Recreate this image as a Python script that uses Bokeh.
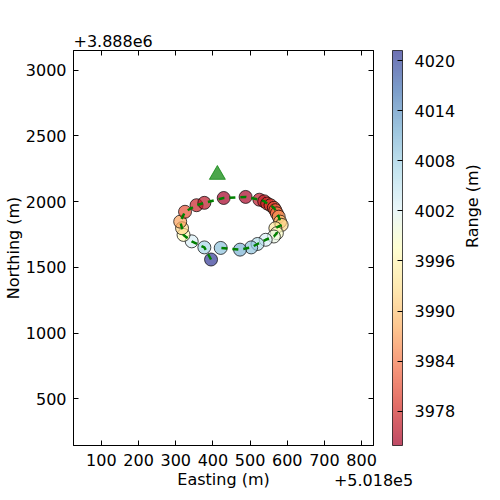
import numpy as np
from bokeh.plotting import figure
from bokeh.models import (LinearAxis, FixedTicker, ColorBar, LinearColorMapper,
                          ColumnDataSource, Range1d, Title)
from bokeh.embed import file_html
from bokeh.resources import INLINE

# ---- data (offsets from 501800 E / 3888000 N) ----
easting = [395, 377, 343, 321, 317, 312, 325, 356, 377, 429, 488, 525, 538, 546,
           555, 564, 568, 572, 577, 581, 585, 568, 572, 564, 542, 520, 503, 473, 421]
northing = [1560, 1652, 1698, 1747, 1798, 1848, 1923, 1973, 1991, 2028, 2036, 2015,
            2003, 1986, 1973, 1953, 1935, 1911, 1886, 1848, 1823, 1798, 1760, 1735,
            1710, 1678, 1652, 1635, 1648]
slant_range = [4021.0, 4007.4, 4002.9, 3997.4, 3991.9, 3987.3, 3981.0, 3977.2, 3976.0,
               3974.0, 3974.3, 3976.1, 3977.1, 3978.3, 3979.3, 3980.9, 3982.2, 3984.1,
               3986.2, 3989.6, 3992.0, 3993.9, 3998.0, 4000.6, 4002.9, 4006.3, 4009.3,
               4011.1, 4009.7]
transponder_e = [412]
transponder_n = [2205]
x_ticks = [100, 200, 300, 400, 500, 600, 700, 800]
y_ticks = [500, 1000, 1500, 2000, 2500, 3000]
cbar_ticks = [3978, 3984, 3990, 3996, 4002, 4008, 4014, 4020]
x_offset_text = "+5.018e5"
y_offset_text = "+3.888e6"

FONT = "DejaVu Sans"
FS = "16px"
FRAME_H = 395

# RdYlBu colormap (red = low, blue = high), interpolated
stops = ['#a50026', '#d73027', '#f46d43', '#fdae61', '#fee090', '#ffffbf',
         '#e0f3f8', '#abd9e9', '#74add1', '#4575b4', '#313695']
rgb = np.array([[int(s[i:i + 2], 16) for i in (1, 3, 5)] for s in stops], float)
t = np.linspace(0, 1, 256)
pos = np.linspace(0, 1, len(stops))
pal = ['#%02x%02x%02x' % tuple(int(round(np.interp(v, pos, rgb[:, k]))) for k in range(3))
       for v in t]
mapper = LinearColorMapper(palette=pal, low=3973.9, high=4021.2)

p = figure(frame_width=300, frame_height=FRAME_H,
           output_backend="svg", toolbar_location=None,
           x_range=Range1d(25, 832), y_range=Range1d(145, 3150),
           min_border_top=50, min_border_right=0, min_border_bottom=0,
           min_border_left=0)
p.xgrid.visible = False
p.ygrid.visible = False
p.outline_line_color = "black"
p.outline_line_width = 1

src = ColumnDataSource(dict(x=easting, y=northing, r=slant_range))
p.scatter('x', 'y', source=src, size=13, marker="circle",
          fill_color={'field': 'r', 'transform': mapper}, fill_alpha=0.7,
          line_color="black", line_alpha=0.7, line_width=1)
p.line('x', 'y', source=src, line_color="green", line_width=2.5, line_dash="6 5")
p.scatter(transponder_e, transponder_n, marker="triangle", size=16,
          fill_color="green", fill_alpha=0.7, line_color="green", line_alpha=0.7)


def style_axis(ax, ticks, labels=True):
    ax.ticker = FixedTicker(ticks=ticks)
    ax.major_tick_in = 5
    ax.major_tick_out = 0
    ax.minor_tick_line_color = None
    ax.axis_line_color = "black"
    ax.major_tick_line_color = "black"
    ax.major_label_text_font = FONT
    ax.major_label_text_font_size = FS if labels else "0px"
    ax.major_label_text_color = "black"
    ax.axis_label_text_font = FONT
    ax.axis_label_text_font_size = FS
    ax.axis_label_text_font_style = "normal"
    ax.axis_label_text_color = "black"


style_axis(p.xaxis[0], x_ticks)
style_axis(p.yaxis[0], y_ticks)
p.xaxis[0].axis_label = "Easting (m)"
p.yaxis[0].axis_label = "Northing (m)"
p.xaxis[0].major_label_standoff = 8
p.yaxis[0].major_label_standoff = 7
p.xaxis[0].axis_label_standoff = 1
p.yaxis[0].axis_label_standoff = 0

top_ax = LinearAxis()
style_axis(top_ax, x_ticks, labels=False)
top_ax.major_label_standoff = 0
p.add_layout(top_ax, "above")
right_ax = LinearAxis()
style_axis(right_ax, y_ticks, labels=False)
right_ax.major_label_standoff = 0
p.add_layout(right_ax, "right")

cb = ColorBar(color_mapper=mapper, ticker=FixedTicker(ticks=cbar_ticks),
              width=10, height=FRAME_H, padding=0, margin=0, scale_alpha=0.7,
              bar_line_color="black", bar_line_width=1,
              major_tick_in=5, major_tick_out=0, major_tick_line_color="black",
              minor_tick_line_color=None,
              major_label_text_font=FONT, major_label_text_font_size=FS,
              major_label_text_color="black", label_standoff=12,
              location=(19, 0), background_fill_alpha=0)
p.add_layout(cb, "right")

# colour bar label as an extra (tick-less) right axis
lab_ax = LinearAxis(ticker=FixedTicker(ticks=[]), axis_line_color=None,
                    major_tick_line_color=None, minor_tick_line_color=None,
                    axis_label="Range (m)", axis_label_text_font=FONT,
                    axis_label_text_font_size=FS, axis_label_text_font_style="normal",
                    axis_label_text_color="black", axis_label_standoff=14,
                    major_label_text_font_size="0px")
if hasattr(lab_ax, "axis_label_orientation"):
    lab_ax.axis_label_orientation = np.pi / 2
p.add_layout(lab_ax, "right")

p.add_layout(Title(text=y_offset_text, align="left", text_font=FONT,
                   text_font_size=FS, text_font_style="normal", text_color="black",
                   standoff=8, offset=0), "above")

# x offset text on the same row as the x-axis label
off_ax = LinearAxis(ticker=FixedTicker(ticks=[]), axis_line_color=None,
                    major_tick_line_color=None, minor_tick_line_color=None,
                    axis_label=x_offset_text, axis_label_text_font=FONT,
                    axis_label_text_font_size=FS, axis_label_text_font_style="normal",
                    axis_label_text_color="black", axis_label_standoff=-18,
                    major_label_text_font_size="0px")
if hasattr(off_ax, "axis_label_align"):
    off_ax.axis_label_align = "end"
p.add_layout(off_ax, "below")

open("out.html", "w").write(file_html(p, INLINE))
